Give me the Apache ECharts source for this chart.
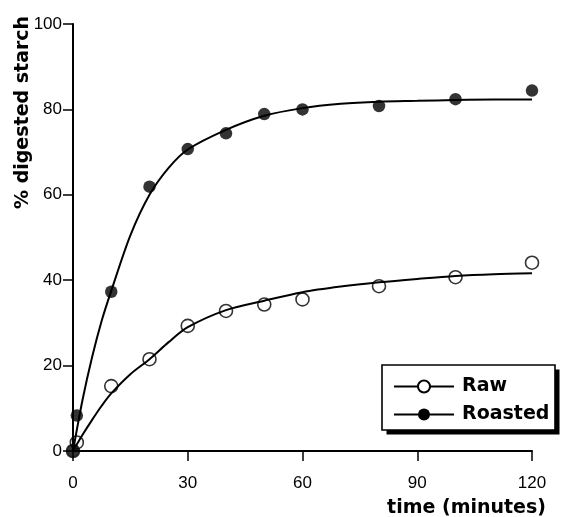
<!DOCTYPE html>
<html>
<head>
<meta charset="utf-8">
<title>% digested starch</title>
<script src="https://cdn.jsdelivr.net/npm/echarts@6/dist/echarts.min.js"></script>
<style>
  html, body { margin: 0; padding: 0; background: #fff; }
  #chart { width: 564px; height: 517px; }
</style>
</head>
<body>
<div id="chart"></div>
<script>
// measured points
const sampleTimes = [0, 1, 10, 20, 30, 40, 50, 60, 80, 100, 120];
const rawValues = [0, 2, 15.2, 21.5, 29.3, 32.8, 34.3, 35.5, 38.6, 40.7, 44.1];
const roastedValues = [0, 8.3, 37.3, 61.9, 70.7, 74.4, 78.9, 80.0, 80.8, 82.4, 84.4];

// fitted curves
const fitTimes = [0, 2.5, 5, 7.5, 10, 15, 20, 25, 30, 40, 50, 60, 70, 80, 90, 100, 110, 120];
const rawFit = [0, 3.8, 7.3, 10.6, 13.5, 18, 21.5, 25.5, 29, 33, 35.2, 37.2, 38.5, 39.5, 40.3, 41, 41.4, 41.6];
const roastedFit = [0, 12, 22, 30.5, 37.5, 50.5, 60, 66.3, 70.6, 75.2, 78.5, 80.3, 81.3, 81.8, 82, 82.2, 82.3, 82.3];

const xTicks = [0, 30, 60, 90, 120];
const yTicks = [0, 20, 40, 60, 80, 100];

const titleFont = 'DejaVu Sans';
const tickFont = 'Liberation Sans';

const pairs = (xs, ys) => xs.map((x, i) => [x, ys[i]]);

const axisCommon = {
  type: 'value',
  axisLine: { show: true, lineStyle: { color: '#000', width: 2 } },
  axisTick: { show: true, length: 10, lineStyle: { color: '#000', width: 1.5 } },
  splitLine: { show: false },
};

// legend box (border + hard shadow)
const box = { x: 382, y: 365, w: 173, h: 65, shadow: 4.5 };

const myChart = echarts.init(document.getElementById('chart'));

const option = {
  backgroundColor: '#fff',
  animation: false,
  grid: { left: 73, right: 32, top: 24, bottom: 66 },
  xAxis: {
    ...axisCommon,
    min: xTicks[0],
    max: xTicks[xTicks.length - 1],
    interval: xTicks[1] - xTicks[0],
    axisLabel: { color: '#000', fontFamily: tickFont, fontSize: 17, margin: 24 },
  },
  yAxis: {
    ...axisCommon,
    min: yTicks[0],
    max: yTicks[yTicks.length - 1],
    interval: yTicks[1] - yTicks[0],
    axisLabel: { color: '#000', fontFamily: tickFont, fontSize: 17, margin: 11 },
  },
  legend: {
    data: ['Raw', 'Roasted'],
    orient: 'vertical',
    left: box.x,
    top: box.y,
    padding: [12, 4, 6, 11],
    itemGap: 9,
    itemWidth: 60,
    itemHeight: 15,
    selectedMode: false,
    z: 10,
    textStyle: {
      color: '#000',
      fontFamily: titleFont,
      fontWeight: 'bold',
      fontSize: 19,
      padding: [0, 0, 0, 3],
    },
  },
  graphic: [
    {
      type: 'rect',
      z: 1,
      shape: { x: box.x + box.shadow, y: box.y + box.shadow, width: box.w, height: box.h },
      style: { fill: '#000' },
    },
    {
      type: 'rect',
      z: 2,
      shape: { x: box.x, y: box.y, width: box.w, height: box.h },
      style: { fill: '#fff', stroke: '#000', lineWidth: 1.6 },
    },
    {
      type: 'text',
      x: 23,
      y: 209,
      rotation: Math.PI / 2,
      style: {
        text: '% digested starch',
        fontFamily: titleFont,
        fontWeight: 'bold',
        fontSize: 19,
        fill: '#000',
        textAlign: 'left',
        textVerticalAlign: 'middle',
      },
    },
    {
      type: 'text',
      x: 546,
      y: 508,
      style: {
        text: 'time (minutes)',
        fontFamily: titleFont,
        fontWeight: 'bold',
        fontSize: 19,
        fill: '#000',
        textAlign: 'right',
        textVerticalAlign: 'middle',
      },
    },
  ],
  series: [
    {
      name: 'Raw',
      type: 'line',
      data: pairs(fitTimes, rawFit),
      smooth: 0.3,
      showSymbol: false,
      symbol: 'emptyCircle',
      lineStyle: { color: '#000', width: 2 },
      itemStyle: { color: '#000' },
      z: 3,
    },
    {
      name: 'Roasted',
      type: 'line',
      data: pairs(fitTimes, roastedFit),
      smooth: 0.3,
      showSymbol: false,
      symbol: 'circle',
      lineStyle: { color: '#000', width: 2 },
      itemStyle: { color: '#000' },
      z: 3,
    },
    {
      name: 'Raw',
      type: 'scatter',
      data: pairs(sampleTimes, rawValues),
      symbol: 'circle',
      symbolSize: 13,
      itemStyle: { color: 'rgba(255,255,255,0)', borderColor: '#000', borderWidth: 1.6 },
      z: 4,
    },
    {
      name: 'Roasted',
      type: 'scatter',
      data: pairs(sampleTimes, roastedValues),
      symbol: 'circle',
      symbolSize: 12.5,
      itemStyle: { color: '#000' },
      z: 5,
    },
  ],
};

myChart.setOption(option);
</script>
</body>
</html>
